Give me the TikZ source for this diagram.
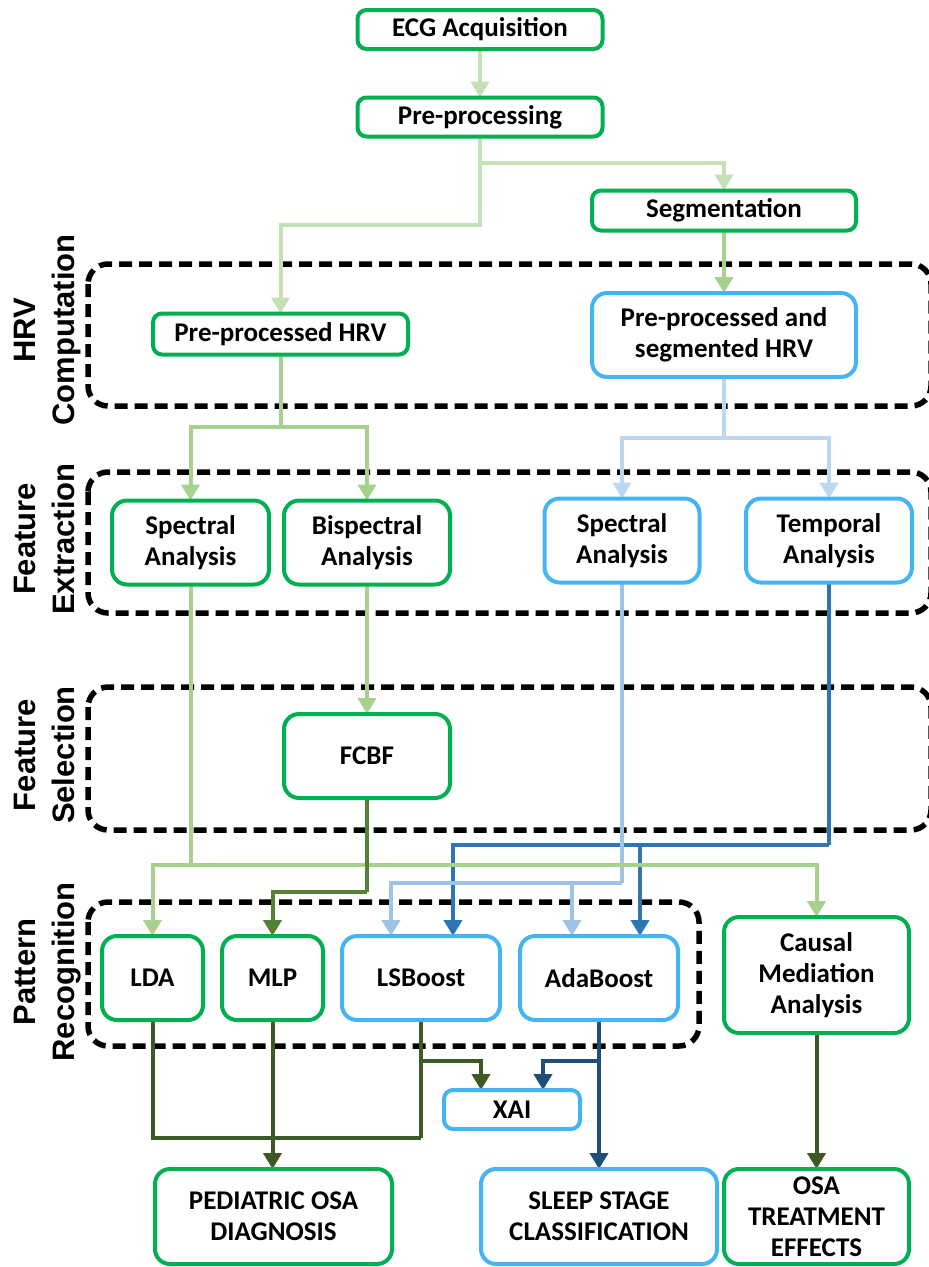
\documentclass[tikz,border=0pt]{standalone}
\usepackage{fontspec}
\setmainfont{Carlito}
\newfontfamily\labfont{Liberation Sans}
\usetikzlibrary{arrows.meta,calc}
\definecolor{gbord}{HTML}{00B050}
\definecolor{bbord}{HTML}{45B4F5}
\definecolor{cpale}{HTML}{C5E0B4}
\definecolor{clight}{HTML}{A9D18E}
\definecolor{cmid}{HTML}{548235}
\definecolor{cdark}{HTML}{3B5A25}
\definecolor{bpale}{HTML}{BDD7EE}
\definecolor{blight}{HTML}{9DC3E6}
\definecolor{bmid}{HTML}{2E75B6}
\definecolor{bdark}{HTML}{1F4E79}
\pgfdeclarelayer{bg}
\pgfsetlayers{bg,main}
\begin{document}
\begin{tikzpicture}[x=1pt,y=-1pt,
 box/.style={draw, line width=4pt, fill=white, rounded corners=9pt, inner sep=0pt, outer sep=0pt, align=center, font=\bfseries\fontsize{27}{31}\selectfont},
 gbox/.style={box, draw=gbord},
 bbox/.style={box, draw=bbord},
 tall/.style={rounded corners=15pt},
 region/.style={draw=black, line width=5.5pt, dash pattern=on 13pt off 7pt, rounded corners=20pt},
 side/.style={rotate=90, anchor=base, font=\labfont\bfseries\fontsize{31}{38}\selectfont},
 conn/.style={line width=4pt, -{Triangle[length=16pt,width=18pt]}},
 link/.style={line width=4pt},
]
\useasboundingbox (0,0) rectangle (929,1267);

% side labels
\node[side] (l1a) at (35,330) {HRV};
\node[side] (l1b) at (74,330) {Computation};
\node[side] (l2a) at (35,539) {Feature};
\node[side] (l2b) at (74,539) {Extraction};
\node[side] (l3a) at (35,755) {Feature};
\node[side] (l3b) at (74,755) {Selection};
\node[side] (l4a) at (35,972) {Pattern};
\node[side] (l4b) at (74,972) {Recognition};

% boxes
\node[gbox, minimum width=245pt, minimum height=39pt] (ecg) at (480,29.5) {ECG Acquisition};
\node[gbox, minimum width=245pt, minimum height=39pt] (pre) at (480,117) {Pre-processing};
\node[gbox, minimum width=264pt, minimum height=40pt] (seg) at (724,210.5) {Segmentation};
\node[gbox, minimum width=255pt, minimum height=41pt] (phrv) at (280.5,334) {Pre-processed HRV};
\node[bbox, tall, minimum width=264pt, minimum height=84pt] (shrv) at (724,335) {Pre-processed and\\segmented HRV};
\node[gbox, tall, minimum width=157pt, minimum height=84pt] (specg) at (190.5,542.5) {Spectral\\Analysis};
\node[gbox, tall, minimum width=166pt, minimum height=84pt] (bisp) at (367,542.5) {Bispectral\\Analysis};
\node[bbox, tall, minimum width=155pt, minimum height=84pt] (specb) at (622,540.5) {Spectral\\Analysis};
\node[bbox, tall, minimum width=166pt, minimum height=84pt] (temp) at (829,540.5) {Temporal\\Analysis};
\node[gbox, tall, minimum width=166pt, minimum height=84pt] (fcbf) at (367,756) {FCBF};
\node[gbox, tall, minimum width=101pt, minimum height=84pt] (lda) at (152.5,978) {LDA};
\node[gbox, tall, minimum width=101pt, minimum height=84pt] (mlp) at (272.5,978) {MLP};
\node[bbox, tall, minimum width=158pt, minimum height=84pt] (lsb) at (421,978) {LSBoost};
\node[bbox, tall, minimum width=158pt, minimum height=84pt] (ada) at (599,978) {AdaBoost};
\node[gbox, tall, minimum width=185pt, minimum height=116pt] (cma) at (816.5,975) {Causal\\Mediation\\Analysis};
\node[bbox, minimum width=136pt, minimum height=39pt] (xai) at (512,1109.5) {XAI};
\node[gbox, tall, minimum width=237pt, minimum height=95pt] (ped) at (273.5,1216.5) {PEDIATRIC OSA\\DIAGNOSIS};
\node[bbox, tall, minimum width=236pt, minimum height=95pt] (ssc) at (599,1216.5) {SLEEP STAGE\\CLASSIFICATION};
\node[gbox, tall, minimum width=185pt, minimum height=95pt] (osa) at (816.5,1216.5) {OSA\\TREATMENT\\EFFECTS};

% junctions
\coordinate (j1) at (480,163);
\coordinate (j2) at (480,225);
\coordinate (j3) at (280.5,427);
\coordinate (j4) at (724,438);
\coordinate (j5) at (190.5,865);
\coordinate (j6) at (367,892);
\coordinate (j7) at (622,883);
\coordinate (j8) at (829,845);
\coordinate (j9) at (421,1138);
\coordinate (j10) at (421,1061);
\coordinate (j11) at (599,1061);

\begin{pgfonlayer}{bg}
% dashed regions
\draw[region] (88,264) rectangle (931,406);
\draw[region] (88,472) rectangle (931,613);
\draw[region] (88,687) rectangle (931,830);
\draw[region] (88,902) rectangle (699,1046);

% connectors
\draw[conn, cpale] (ecg) -- (pre);
\draw[link, cpale] (pre.south) -- (j1);
\draw[conn, cpale] (j1) -| (seg.north);
\draw[conn, cpale] (j1) -- (j2) -| (phrv.north);
\draw[conn, clight] (seg) -- (shrv);

\draw[link, clight] (phrv.south) -- (j3);
\draw[conn, clight] (j3) -| (specg.north);
\draw[conn, clight] (j3) -| (bisp.north);
\draw[link, bpale] (shrv.south) -- (j4);
\draw[conn, bpale] (j4) -| (specb.north);
\draw[conn, bpale] (j4) -| (temp.north);

\draw[conn, clight] (bisp) -- (fcbf);

\draw[link, bmid] (temp.south) -- (j8);
\draw[conn, bmid] (j8) -| ($(lsb.north)+(32,0)$);
\draw[conn, bmid] (j8) -| ($(ada.north)+(41,0)$);
\draw[link, blight] (specb.south) -- (j7);
\draw[conn, blight] (j7) -| ($(lsb.north)+(-30,0)$);
\draw[conn, blight] (j7) -| ($(ada.north)+(-27,0)$);
\draw[link, clight] (specg.south) -- (j5);
\draw[conn, clight] (j5) -| (lda.north);
\draw[conn, clight] (j5) -| (cma.north);
\draw[link, cmid] (fcbf.south) -- (j6);
\draw[conn, cmid] (j6) -| (mlp.north);

\draw[link, cdark] (lda.south) |- (j9);
\draw[link, cdark] (lsb.south) -- (j9);
\draw[conn, cdark] (mlp.south) -- (mlp.south |- ped.north);
\draw[conn, cdark] (j10) -| ($(xai.north)+(-31,0)$);
\draw[conn, bdark] (ada.south) -- (ada.south |- ssc.north);
\draw[conn, bdark] (j11) -| ($(xai.north)+(31,0)$);
\draw[conn, cdark] (cma) -- (osa);
\end{pgfonlayer}
\end{tikzpicture}
\end{document}
